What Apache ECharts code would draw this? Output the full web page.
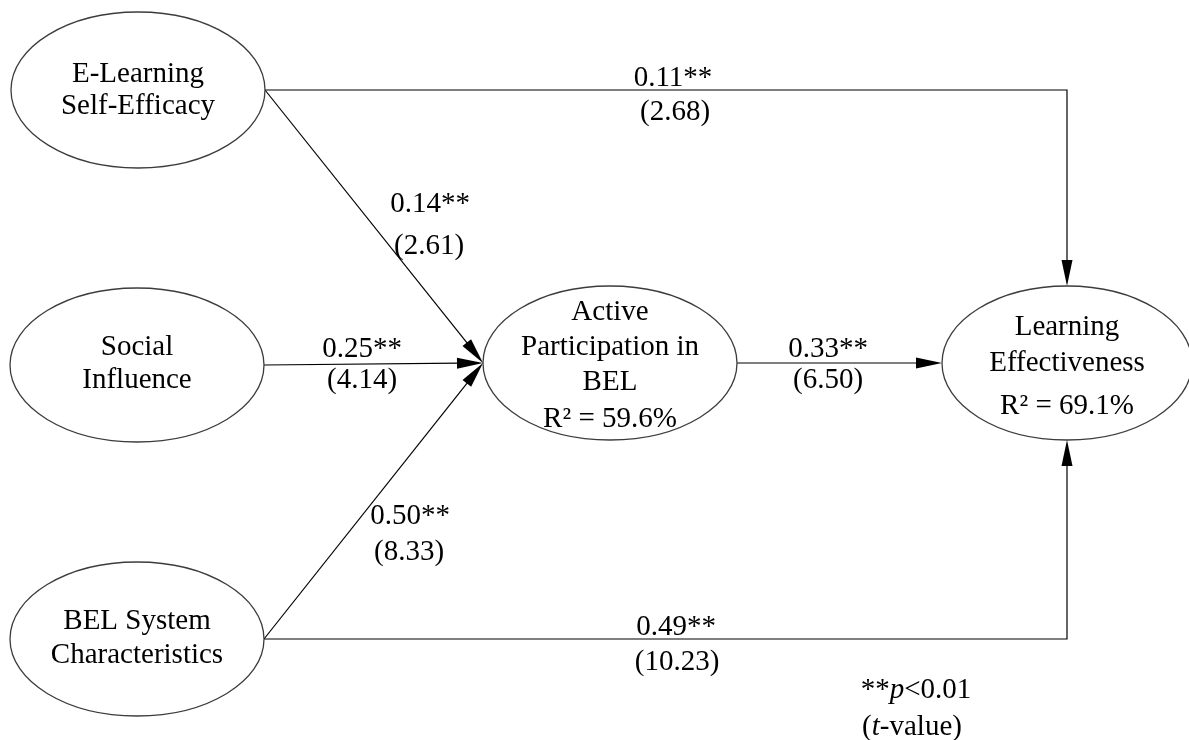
<!DOCTYPE html>
<html><head><meta charset="utf-8">
<script src="https://cdn.jsdelivr.net/npm/echarts@6/dist/echarts.min.js"></script>
<style>html,body{margin:0;padding:0;background:#fff}#c{width:1189px;height:740px}</style>
</head><body><div id="c"></div>
<script>
// ---- data ----
const nodeNames = ['E-Learning\nSelf-Efficacy', 'Social\nInfluence', 'BEL System\nCharacteristics', 'Active\nParticipation in\nBEL', 'Learning\nEffectiveness'];
const nodeR2 = [null, null, null, 59.6, 69.1];
const pathSource = [0, 0, 1, 2, 2, 3];
const pathTarget = [4, 3, 3, 3, 4, 4];
const pathCoef = [0.11, 0.14, 0.25, 0.50, 0.49, 0.33];
const pathT = [2.68, 2.61, 4.14, 8.33, 10.23, 6.50];
const noteLines = ['{n|**}{i|p}{n|<0.01}', '{n|(}{i|t}{n|-value)}'];

// ---- layout (axis units) ----
const nodeCenter = [[138, 90], [137, 365], [137, 639], [610, 363], [1067, 363]];
const nodeRadius = [[127, 78], [127, 77], [127, 77], [127, 77], [125, 77]];
const nodeLineH = [32, 33, 34, 35, 36];
const nodeNameDy = [0, -1.5, -1, -16, -18];
const nodeR2Dy = [0, 0, 0, 56, 43];
const pathRoute = ['elbow', 'straight', 'straight', 'straight', 'elbow', 'straight'];
const coefPos = [[673, 78], [430, 204], [362, 349], [410, 516], [676, 627], [828, 349]];
const tPos = [[675, 112], [429, 246], [362, 380], [409, 552], [677, 662], [828, 380]];
const notePos = [[916, 690], [912, 727]];

const FONT = "'Liberation Serif', 'Times New Roman', serif";
const FS = 29;

const chart = echarts.init(document.getElementById('c'), null, {renderer: 'canvas'});

function txt(p, text, lh) {
  return {type: 'text', x: p[0], y: p[1], style: {text: text, fontSize: FS, fontFamily: FONT, fill: '#000', align: 'center', verticalAlign: 'middle', lineHeight: lh || FS}};
}

function renderNode(params, api) {
  const i = params.dataIndex;
  const c = api.coord(nodeCenter[i]);
  const r = api.size(nodeRadius[i]);
  const children = [{
    type: 'ellipse', shape: {cx: c[0], cy: c[1], rx: r[0], ry: r[1]},
    style: {fill: '#fff', stroke: '#3c3c3c', lineWidth: 1.3}
  }];
  children.push(txt(api.coord([nodeCenter[i][0], nodeCenter[i][1] + nodeNameDy[i]]), nodeNames[i], nodeLineH[i]));
  if (nodeR2[i] != null) {
    children.push(txt(api.coord([nodeCenter[i][0], nodeCenter[i][1] + nodeR2Dy[i]]), 'R\u00b2 = ' + nodeR2[i].toFixed(1) + '%'));
  }
  return {type: 'group', children: children};
}

function renderPath(params, api) {
  const i = params.dataIndex;
  const s = pathSource[i], t = pathTarget[i];
  const sc = nodeCenter[s], sr = nodeRadius[s], tc = nodeCenter[t], tr = nodeRadius[t];
  let pts;
  const start = [sc[0] + sr[0], sc[1]];
  if (pathRoute[i] === 'elbow') {
    const endY = sc[1] < tc[1] ? tc[1] - tr[1] : tc[1] + tr[1];
    pts = [start, [tc[0], sc[1]], [tc[0], endY]];
  } else {
    pts = [start, [tc[0] - tr[0], tc[1]]];
  }
  const px = pts.map(p => api.coord(p));
  const tip = px[px.length - 1], prev = px[px.length - 2];
  let dx = tip[0] - prev[0], dy = tip[1] - prev[1];
  const len = Math.hypot(dx, dy); dx /= len; dy /= len;
  const AL = 26, AW = 5.5;
  const base = [tip[0] - dx * AL, tip[1] - dy * AL];
  const linePts = px.slice(0, -1).concat([[tip[0] - dx * (AL - 2), tip[1] - dy * (AL - 2)]]);
  return {type: 'group', children: [
    {type: 'polyline', shape: {points: linePts}, style: {stroke: '#000', lineWidth: 1.2, fill: null}},
    {type: 'polygon', shape: {points: [tip, [base[0] - dy * AW, base[1] + dx * AW], [base[0] + dy * AW, base[1] - dx * AW]]}, style: {fill: '#000'}},
    txt(api.coord(coefPos[i]), pathCoef[i].toFixed(2) + '**'),
    txt(api.coord(tPos[i]), '(' + pathT[i].toFixed(2) + ')')
  ]};
}

function renderNote(params, api) {
  const i = params.dataIndex;
  const p = api.coord(notePos[i]);
  return {type: 'text', x: p[0], y: p[1], style: {
    text: noteLines[i], align: 'center', verticalAlign: 'middle',
    rich: {
      n: {fontSize: FS, fontFamily: FONT, fill: '#000'},
      i: {fontSize: FS, fontFamily: FONT, fontStyle: 'italic', fill: '#000'}
    }
  }};
}

chart.setOption({
  animation: false,
  backgroundColor: '#fff',
  grid: {left: 0, right: 0, top: 0, bottom: 0},
  xAxis: {type: 'value', min: 0, max: 1189, show: false},
  yAxis: {type: 'value', min: 0, max: 740, inverse: true, show: false},
  series: [
    {type: 'custom', clip: false, z: 1, renderItem: renderPath, data: pathCoef.map((v, i) => [i, v])},
    {type: 'custom', clip: false, z: 2, renderItem: renderNode, data: nodeNames.map((n, i) => [i, 0])},
    {type: 'custom', clip: false, z: 3, renderItem: renderNote, data: noteLines.map((n, i) => [i, 0])}
  ]
});
</script></body></html>
